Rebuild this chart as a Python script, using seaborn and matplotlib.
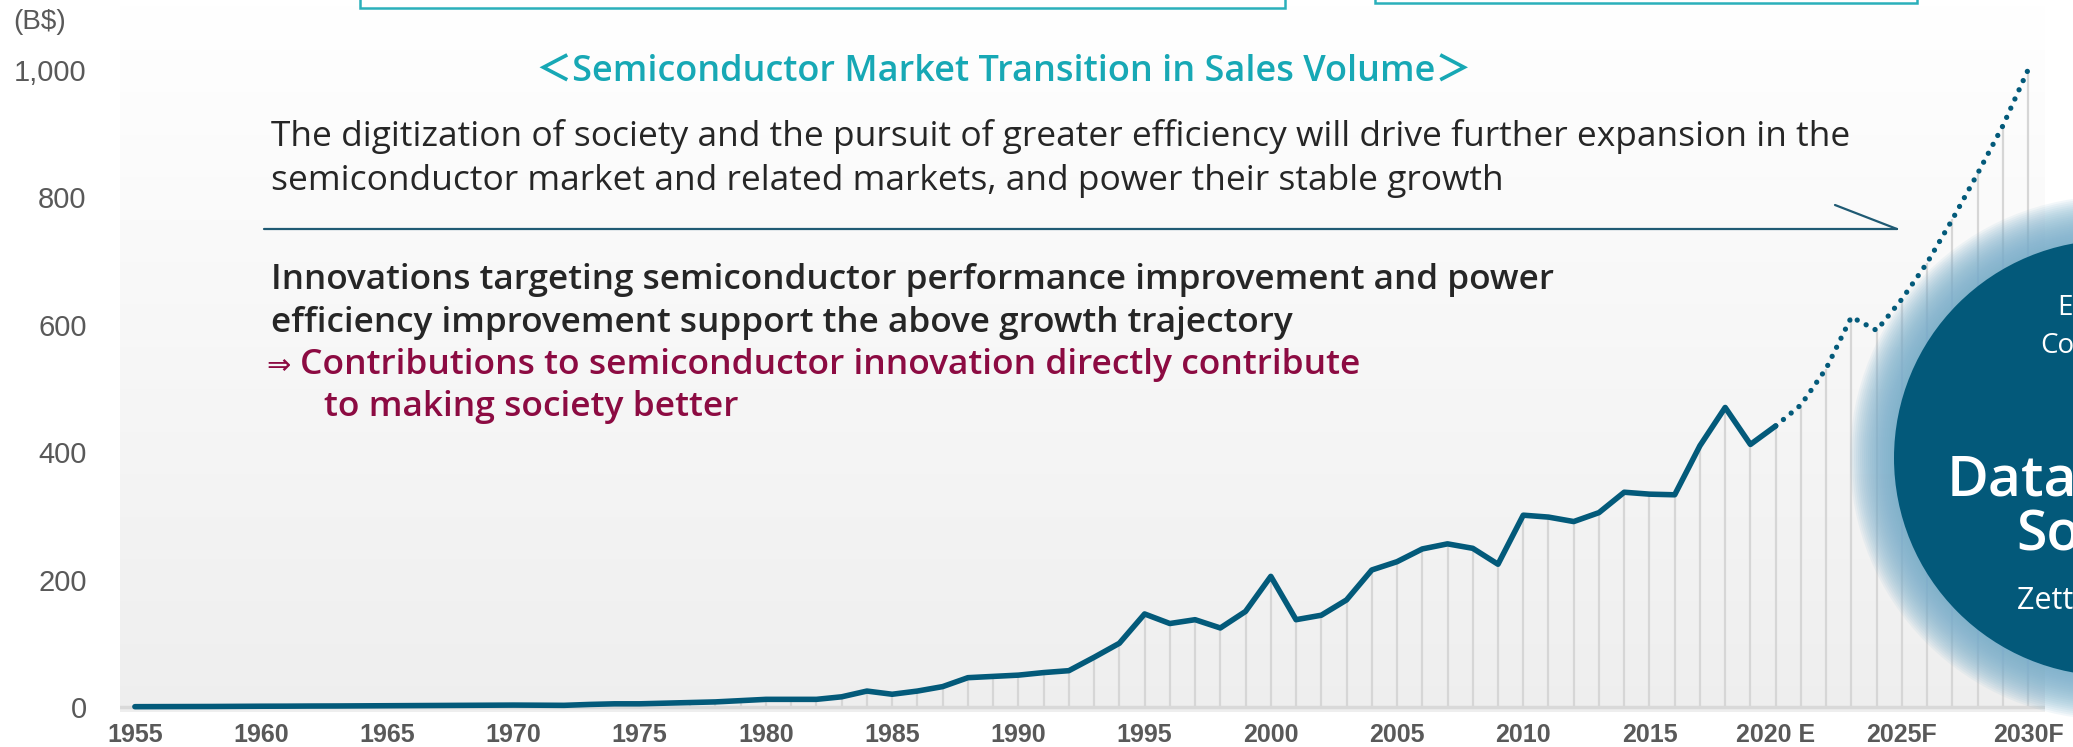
import numpy as np
import pandas as pd
import matplotlib.pyplot as plt
import seaborn as sns
from matplotlib.patches import Circle, Rectangle

# semiconductor market, B$
years_hist = list(range(1955, 2021))
sales_hist = [0.5, 0.6, 0.7, 0.8, 1.0,
              1.2, 1.3, 1.5, 1.6, 1.8,
              2.0, 2.2, 2.4, 2.6, 2.8,
              3.0, 2.8, 2.6, 4.0, 5.0,
              5.0, 6.0, 7.0, 8.0, 10,
              12, 12, 12, 16, 25,
              20, 25, 32, 46, 48,
              50, 54, 57, 78, 100,
              146, 131, 137, 124, 150,
              205, 137, 144, 168, 215,
              228, 248, 256, 249, 224,
              301, 298, 291, 305, 337,
              334, 333, 410, 470, 412,
              441]
years_fcst = list(range(2020, 2031))
sales_fcst = [441, 474, 531, 612, 591, 640, 697, 765, 837, 912, 1000]

ytick_vals = [0, 200, 400, 600, 800, 1000]
ytick_text = ['0', '200', '400', '600', '800', '1,000']
xtick_vals = list(range(1955, 2031, 5))
xtick_text = ['1955', '1960', '1965', '1970', '1975', '1980', '1985', '1990',
              '1995', '2000', '2005', '2010', '2015', '2020 E', '2025F', '2030F']

hist = pd.DataFrame({'year': years_hist, 'sales': sales_hist})
fcst = pd.DataFrame({'year': years_fcst, 'sales': sales_fcst})
stems = pd.concat([hist, fcst.iloc[1:]], ignore_index=True)

sns.set_style('white')
plt.rcParams['font.family'] = ['Liberation Sans', 'DejaVu Sans']

W, H = 2073, 747
fig = plt.figure(figsize=(W / 100, H / 100), dpi=100)
ax = fig.add_axes([120 / W, (H - 712) / H, (2045 - 120) / W, (712 - 6) / H])
x0, x1, y0, y1 = 1954.41, 2030.67, -7.85, 1100

# soft grey gradient behind the plot
grad = np.linspace(0.935, 1.0, 256).reshape(-1, 1)
ax.imshow(np.dstack([grad, grad, grad]), extent=[x0, x1, y0, y1], aspect='auto',
          origin='lower', zorder=0, interpolation='bicubic')

# yearly stems + baseline
ax.vlines(stems['year'], 0, stems['sales'], color='#d6d6d6', lw=1.6, zorder=1)
ax.axhline(0, color='#d9d9d9', lw=2.5, zorder=1)

sns.lineplot(data=hist, x='year', y='sales', color='#035a7a', linewidth=4.0, ax=ax, zorder=3)
sns.lineplot(data=fcst, x='year', y='sales', color='#035a7a', linewidth=3.8, ax=ax, zorder=3,
             linestyle=(0, (0.01, 1.9)))
ax.lines[-2].set_solid_capstyle('round')
ax.lines[-2].set_solid_joinstyle('round')
ax.lines[-1].set_dash_capstyle('round')

ax.set_xlim(x0, x1)
ax.set_ylim(y0, y1)
ax.set_xticks(xtick_vals, xtick_text)
ax.set_yticks(ytick_vals, ytick_text)
ax.set_xlabel('')
ax.set_ylabel('')
ax.tick_params(axis='y', length=0, pad=24, labelsize=21, labelcolor='#595959')
ax.tick_params(axis='x', length=0, pad=8, labelsize=18, labelcolor='#595959')
for lab in ax.get_xticklabels():
    lab.set_fontweight('bold')
for s in ax.spines.values():
    s.set_visible(False)

# overlay in pixel coordinates for the decorations
ov = fig.add_axes([0, 0, 1, 1])
ov.set_xlim(0, W)
ov.set_ylim(H, 0)
ov.axis('off')
ov.patch.set_alpha(0)

# cut-off boxes at the top
ov.add_patch(Rectangle((360, -40), 925, 48, fill=False, ec='#2bb0bb', lw=1.8))
ov.add_patch(Rectangle((1375, -40), 542, 43, fill=False, ec='#2bb0bb', lw=1.8))

# glowing circle on the right
cx, cy, r = 2112, 458, 218
for k in range(44, 0, -2):
    ov.add_patch(Circle((cx, cy), r + k, color='#78aecb', alpha=0.09, lw=0))
ov.add_patch(Circle((cx, cy), r, color='#03597a', lw=0))
circ = ['Open Sans', 'DejaVu Sans']
ov.text(cx, 308, 'Exascale', color='white', fontsize=20, ha='center', va='center', family=circ)
ov.text(cx, 346, 'Computing', color='white', fontsize=20, ha='center', va='center', family=circ)
ov.text(cx, 482, 'Data-Driven', color='white', fontsize=41, ha='center', va='center',
        weight='semibold', family=circ)
ov.text(cx, 536, 'Society', color='white', fontsize=40, ha='center', va='center',
        weight='semibold', family=circ)
ov.text(cx, 601, 'Zettabyte Era', color='white', fontsize=22, ha='center', va='center', family=circ)

ov.text(13, 22, '(B$)', color='#595959', fontsize=20, ha='left', va='center')

txt = ['Open Sans', 'Noto Sans CJK JP', 'DejaVu Sans']
ov.text(1004, 73, '＜Semiconductor Market Transition in Sales Volume＞', color='#17a8b5',
        fontsize=26, weight='semibold', ha='center', va='center', family=txt)

ov.text(271, 136, 'The digitization of society and the pursuit of greater efficiency will drive further expansion in the',
        color='#262626', fontsize=25.5, ha='left', va='center', family=txt)
ov.text(271, 181, 'semiconductor market and related markets, and power their stable growth',
        color='#262626', fontsize=25.5, ha='left', va='center', family=txt)
ov.plot([264, 1897], [229, 229], color='#1f5a73', lw=1.6)
ov.plot([1835, 1897], [205, 229], color='#1f5a73', lw=1.6)

ov.text(271, 280, 'Innovations targeting semiconductor performance improvement and power',
        color='#262626', fontsize=25.3, weight='semibold', ha='left', va='center', family=txt)
ov.text(271, 323, 'efficiency improvement support the above growth trajectory',
        color='#262626', fontsize=25.3, weight='semibold', ha='left', va='center', family=txt)
ov.text(266, 366, '⇒', color='#8c0b42', fontsize=21, ha='left', va='center',
        family=['DejaVu Sans'])
ov.text(300, 365, 'Contributions to semiconductor innovation directly contribute',
        color='#8c0b42', fontsize=25.5, weight='semibold', ha='left', va='center', family=txt)
ov.text(324, 407, 'to making society better',
        color='#8c0b42', fontsize=25.5, weight='semibold', ha='left', va='center', family=txt)

fig.savefig('out.png', dpi=100)
